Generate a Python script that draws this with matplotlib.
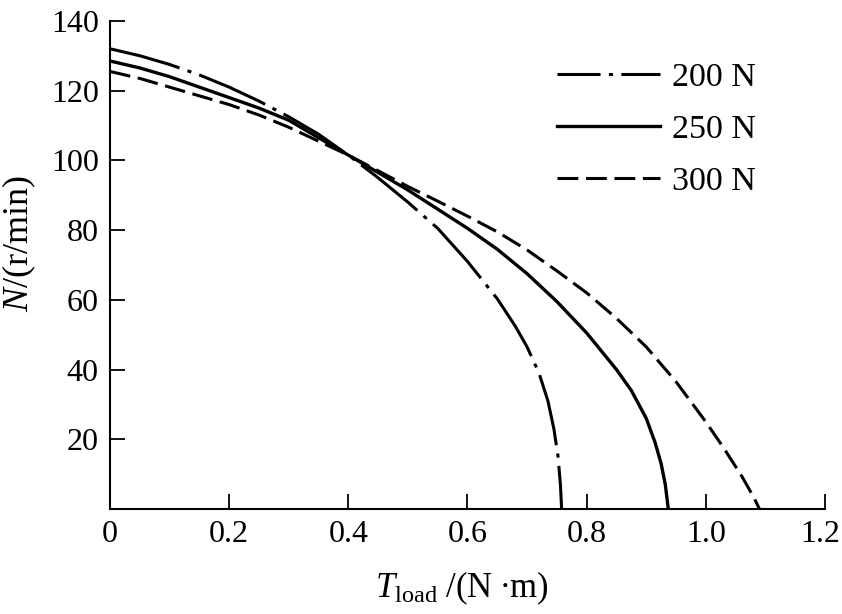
import matplotlib
matplotlib.use("Agg")
import matplotlib.pyplot as plt
import matplotlib.transforms as mtransforms

# ---- data (load torque [N*m], speed [r/min]) ---------------------------------
t_200 = [0.0, 0.05, 0.1, 0.15, 0.2, 0.25, 0.3, 0.35, 0.4, 0.45, 0.5, 0.55,
         0.6, 0.65, 0.68, 0.70, 0.72, 0.735, 0.745, 0.752, 0.756, 0.758]
n_200 = [132, 130, 127.5, 124.5, 121, 117, 112.5, 107.5, 101.5, 95, 88, 80.5,
         71, 60.3, 52.5, 46.5, 39, 31, 23, 15, 7, 0]

t_250 = [0.0, 0.05, 0.1, 0.15, 0.2, 0.25, 0.3, 0.35, 0.4, 0.45, 0.5, 0.55,
         0.6, 0.65, 0.7, 0.75, 0.8, 0.85, 0.875, 0.9, 0.915, 0.925, 0.932, 0.937]
n_250 = [128.5, 126.5, 124, 121, 118, 115, 111.5, 106.5, 101.5, 96.5, 91.5, 86,
         80.5, 74.5, 67.5, 59.5, 50.5, 40, 34, 26, 19, 13, 7, 0]

t_300 = [0.0, 0.05, 0.1, 0.15, 0.2, 0.25, 0.3, 0.35, 0.4, 0.45, 0.5, 0.55,
         0.6, 0.65, 0.7, 0.75, 0.8, 0.85, 0.9, 0.95, 1.0, 1.03, 1.06, 1.08, 1.09]
n_300 = [125.5, 123.5, 121, 118.5, 116, 113, 109.5, 105.5, 101.5, 97, 92.5, 88.3,
         84, 79.5, 74.3, 68.3, 62, 54.7, 46.5, 36.5, 25, 17.5, 9.5, 3.5, 0]

labels = ["200 N", "250 N", "300 N"]
x_ticks = [0, 0.2, 0.4, 0.6, 0.8, 1.0, 1.2]
x_ticklabels = ["0", "0.2", "0.4", "0.6", "0.8", "1.0", "1.2"]
y_ticks = [20, 40, 60, 80, 100, 120, 140]

plt.rcParams["font.family"] = ["Liberation Serif", "DejaVu Serif"]
plt.rcParams["mathtext.fontset"] = "custom"
plt.rcParams["mathtext.rm"] = "Liberation Serif"
plt.rcParams["mathtext.it"] = "Liberation Serif:italic"
plt.rcParams["lines.scale_dashes"] = False

fig = plt.figure(figsize=(8.42, 6.14), dpi=100)
ax = fig.add_axes([0.1306, 0.171, 0.8492, 0.795])

lw = 2.2
dashdot = (52, 6, 3, 6)
ax.plot(t_200, n_200, color="black", lw=lw, dashes=dashdot, label=labels[0])
ax.plot(t_250, n_250, color="black", lw=lw + 0.2, ls="-", label=labels[1])
ax.plot(t_300, n_300, color="black", lw=lw, dashes=(15, 5.5), label=labels[2])

ax.set_xlim(0, 1.2)
ax.set_ylim(0, 140)
ax.set_xticks(x_ticks)
ax.set_xticklabels(x_ticklabels)
ax.set_yticks(y_ticks)

for side in ("top", "right"):
    ax.spines[side].set_visible(False)
for side in ("left", "bottom"):
    ax.spines[side].set_linewidth(1.5)

ax.tick_params(direction="in", length=11, width=1.3, labelsize=23, pad=8)

# nudge the last x tick label so it stays inside the canvas
last = ax.get_xticklabels()[-1]
last.set_transform(last.get_transform() +
                   mtransforms.ScaledTranslation(-0.05, 0, fig.dpi_scale_trans))

ax.set_xlabel(r"$T_{\rm load}$ /(N $\bullet$m)", fontsize=25)
ax.xaxis.set_label_coords(0.492, -0.125)
ax.set_ylabel(r"$N$/(r/min)", fontsize=26)
ax.yaxis.set_label_coords(-0.1, 0.545)

leg = ax.legend(loc="upper left", bbox_to_anchor=(0.625, 0.916), frameon=False,
                fontsize=24.5, handlelength=3.03, handletextpad=0.35,
                labelspacing=0.62, borderpad=0, borderaxespad=0)
# shift the dash-dot pattern in the legend key so it shows dash-dot-dash
leg.get_lines()[0].set_linestyle((21, dashdot))

fig.savefig("out.png", dpi=100)
